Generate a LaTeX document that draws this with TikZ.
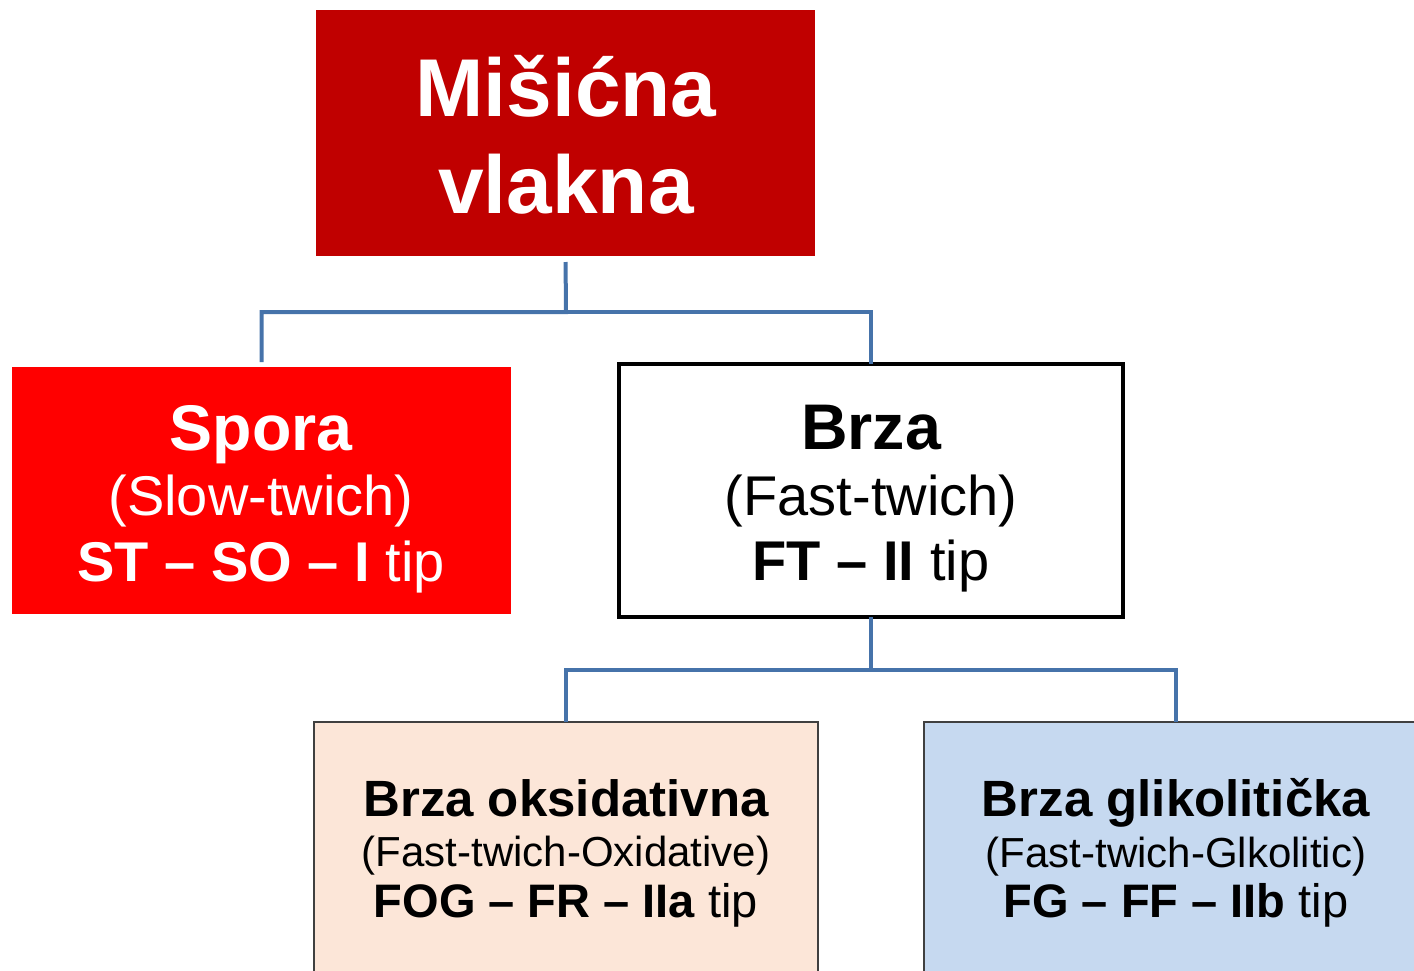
\documentclass[tikz,border=0pt]{standalone}
\usepackage{fontspec}
\setmainfont{Liberation Sans}
\definecolor{topred}{HTML}{C00000}
\definecolor{slowred}{HTML}{FF0000}
\definecolor{peach}{HTML}{FCE6D8}
\definecolor{paleblue}{HTML}{C6D9F0}
\definecolor{connblue}{RGB}{70,115,170}
\definecolor{thinborder}{HTML}{404040}
\tikzset{
  boxshape/.style={rectangle, inner sep=0pt, outer sep=0pt},
  topbox/.style={boxshape, fill=topred, minimum width=499pt, minimum height=246pt},
  slowbox/.style={boxshape, fill=slowred, minimum width=499pt, minimum height=247pt},
  fastbox/.style={boxshape, fill=white, draw=black, line width=3.5pt, minimum width=504pt, minimum height=253pt},
  subbox/.style={boxshape, draw=thinborder, line width=1.2pt, minimum width=504pt, minimum height=260pt},
  toptxt/.style={align=center, inner sep=0pt, text=white, font=\fontsize{82}{97}\selectfont\bfseries},
  midtxt/.style={align=center, inner sep=0pt, font=\fontsize{56}{65.5}\selectfont},
  lowtxt/.style={align=center, inner sep=0pt, font=\fontsize{42}{50.5}\selectfont},
  conn/.style={draw=connblue, line width=4pt}
}
\begin{document}
\begin{tikzpicture}[x=1pt, y=-1pt]
\useasboundingbox (0,0) rectangle (1414,970);
% boxes
\node[topbox] (top) at (565.5,133) {};
\node[slowbox] (spora) at (261.5,490.5) {};
\node[fastbox] (brza) at (871,490.5) {};
\node[subbox, fill=peach] (fog) at (566,852) {};
\node[subbox, fill=paleblue] (fg) at (1176,852) {};
% texts
\node[toptxt] (topT) at (566,134.3) {Mišićna\\vlakna};
\node[midtxt, text=white] (sporaT) at (261,498.9) {{\fontsize{64.5}{65}\selectfont\bfseries Spora}\\(Slow-twich)\\\textbf{ST – SO – I} tip};
\node[midtxt] (brzaT) at (871,498.9) {{\fontsize{64.5}{65}\selectfont\bfseries Brza}\\(Fast-twich)\\\textbf{FT – II} tip};
\node[lowtxt] (fogT) at (566,852.9) {{\fontsize{51}{50}\selectfont\bfseries Brza oksidativna}\\(Fast-twich-Oxidative)\\{\fontsize{47}{50}\selectfont\textbf{FOG – FR – IIa} tip}};
\node[lowtxt] (fgT) at (1176,852.9) {{\fontsize{51}{50}\selectfont\bfseries Brza glikolitička}\\(Fast-twich-Glkolitic)\\{\fontsize{47}{50}\selectfont\textbf{FG – FF – IIb} tip}};
% connectors
\coordinate (j1) at (566,312);
\coordinate (j2) at (871,670);
\draw[conn, shorten <=6pt, shorten >=5pt] (top.south) -- (j1) -| (spora.north);
\draw[conn] (j1) -| (brza.north);
\draw[conn] (brza.south) -- (j2) -| (fog.north);
\draw[conn] (j2) -| (fg.north);
\end{tikzpicture}
\end{document}
